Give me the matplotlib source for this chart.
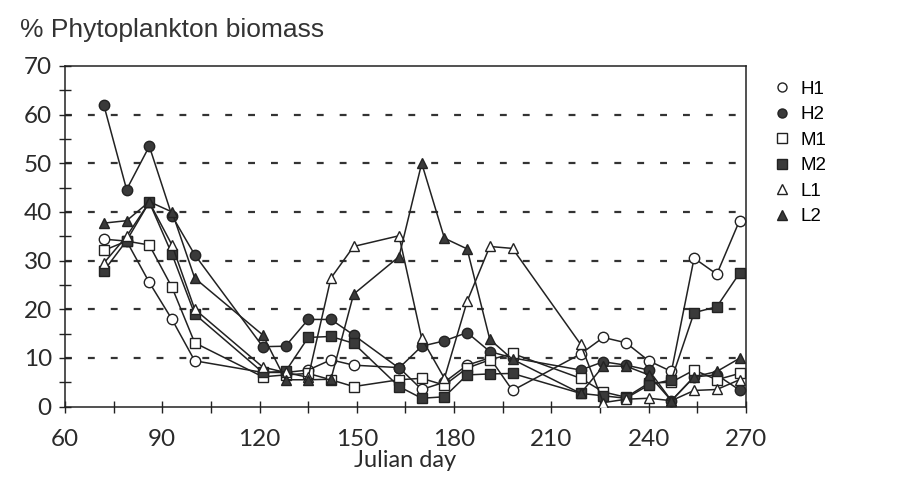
import matplotlib
matplotlib.use("Agg")
import matplotlib.pyplot as plt
from matplotlib.ticker import MultipleLocator

days = [72, 79, 86, 93, 100, 121, 128, 135, 142, 149, 163, 170,
        177, 184, 191, 198, 219, 226, 233, 240, 247, 254, 261, 268]

h1 = [34.4, 34.0, 25.5, 17.9, 9.4, 7.0, 7.0, 7.5, 9.6, 8.5, 8.0, 3.5,
      5.0, 8.5, 10.0, 3.3, 10.8, 14.2, 13.1, 9.4, 7.2, 30.5, 27.2, 38.2]
h2 = [61.9, 44.6, 53.5, 39.2, 31.2, 12.3, 12.4, 17.9, 17.9, 14.7, 7.9, 12.4,
      13.5, 15.2, 11.3, 10.0, 7.5, 9.2, 8.5, 7.5, 1.2, 6.1, 6.5, 3.4]
m1 = [32.1, 34.0, 33.2, 24.5, 13.1, 6.1, 6.5, 6.8, 5.5, 4.1, 5.5, 5.8,
      4.4, 7.9, 9.6, 10.9, 5.8, 3.0, 1.9, 4.8, 5.0, 7.5, 5.5, 6.8]
m2 = [27.9, 34.1, 42.0, 31.3, 19.0, 7.0, 7.2, 14.2, 14.4, 13.0, 4.1, 1.7,
      2.0, 6.5, 6.7, 6.8, 2.7, 2.2, 1.7, 4.4, 5.5, 19.3, 20.5, 27.4]
l1 = [29.5, 35.0, 42.0, 33.2, 20.0, 8.1, 7.0, 6.0, 26.4, 32.9, 35.1, 14.0,
      5.8, 21.6, 32.9, 32.5, 12.8, 0.8, 1.5, 1.7, 1.2, 3.3, 3.5, 5.5]
l2 = [37.7, 38.2, 42.1, 40.0, 26.4, 14.7, 5.5, 5.5, 5.6, 23.1, 30.8, 50.0,
      34.6, 32.4, 13.8, 9.7, 2.7, 8.3, 8.3, 6.5, 1.2, 6.1, 7.2, 9.9]

series = [("H1", h1), ("H2", h2), ("M1", m1), ("M2", m2), ("L1", l1), ("L2", l2)]
styles = {
    "H1": dict(marker="o", mfc="white"),
    "H2": dict(marker="o", mfc="#3a3a3a"),
    "M1": dict(marker="s", mfc="white"),
    "M2": dict(marker="s", mfc="#3a3a3a"),
    "L1": dict(marker="^", mfc="white"),
    "L2": dict(marker="^", mfc="#3a3a3a"),
}

x_ticks = [60, 90, 120, 150, 180, 210, 240, 270]
y_ticks = [0, 10, 20, 30, 40, 50, 60, 70]

fig = plt.figure(figsize=(8.99, 4.82), dpi=100)
ax = fig.add_axes([0.0723, 0.1566, 0.7575, 0.7065])

for name, vals in series:
    st = styles[name]
    ax.plot(days, vals, color="#222222", lw=1.1, marker=st["marker"],
            mfc=st["mfc"], mec="#222222", mew=1.0, ms=7.5, zorder=3)

ax.set_xlim(60, 270)
ax.set_ylim(0, 70)
ax.set_xticks(x_ticks)
ax.set_yticks(y_ticks)
ax.xaxis.set_minor_locator(MultipleLocator(15))
ax.yaxis.set_minor_locator(MultipleLocator(5))
ax.tick_params(which="both", direction="inout", length=9, width=1.0,
               color="#222222", top=False, right=False)

tick_font = dict(family=["Lato", "DejaVu Sans"], size=17.5, weight="normal")
ax.set_xticklabels([str(v) for v in x_ticks], **tick_font, color="#2a2a2a")
ax.set_yticklabels([str(v) for v in y_ticks], **tick_font, color="#2a2a2a")
ax.tick_params(axis="x", pad=12)
ax.tick_params(axis="y", pad=5)

for g in y_ticks[1:-1]:
    ax.axhline(g, color="#333333", lw=1.6, ls=(0, (3.1, 7.2)), zorder=1)

for s in ax.spines.values():
    s.set_color("#222222")
    s.set_linewidth(1.1)

ax.set_xlabel("Julian day", family=["Lato", "DejaVu Sans"], size=17,
              color="#2a2a2a", labelpad=0)

fig.text(0.022, 0.937, "% Phytoplankton biomass", family="Liberation Sans",
         size=19, color="#333333", va="center")

handles = []
for name, _ in series:
    st = styles[name]
    h, = ax.plot([], [], ls="none", marker=st["marker"], mfc=st["mfc"],
                 mec="#222222", mew=1.0, ms=6.5)
    handles.append(h)
fig.legend(handles, [n for n, _ in series], loc="upper left",
           bbox_to_anchor=(0.843, 0.868), frameon=False, handlelength=0.8,
           handletextpad=0.6, labelspacing=0.45,
           prop=dict(family="Liberation Sans", size=13.5))

fig.savefig("out.png", dpi=100)
